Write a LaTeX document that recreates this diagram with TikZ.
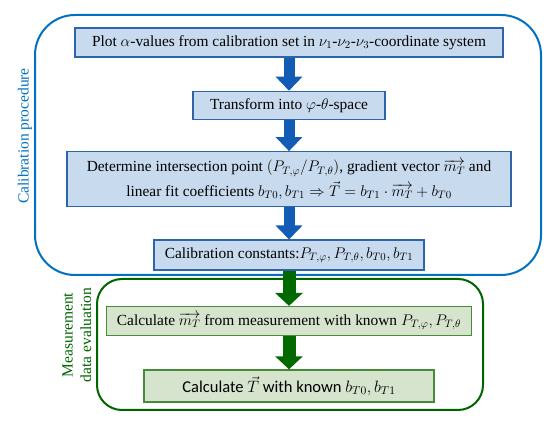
\documentclass[tikz,border=0pt]{standalone}
\usepackage{fix-cm}
\usepackage{fontspec}
\usepackage{amsmath}
\setmainfont{Liberation Serif}
\newfontfamily\calibrifont{Carlito}
\usetikzlibrary{arrows.meta, positioning}
\definecolor{calframe}{RGB}{0,112,192}
\definecolor{calborder}{RGB}{46,100,168}
\definecolor{calfill}{RGB}{200,218,238}
\definecolor{calarrow}{RGB}{18,92,182}
\definecolor{evalframe}{RGB}{0,100,0}
\definecolor{evalborder}{RGB}{70,140,55}
\definecolor{evalfill}{RGB}{214,228,206}
\definecolor{evalarrow}{RGB}{0,105,0}

\begin{document}
\begin{tikzpicture}[x=1pt, y=1pt, node distance=32pt,
  calbox/.style={rectangle, draw=calborder, line width=1.4pt, fill=calfill, inner sep=0pt, align=center, font=\rmfamily\fontsize{15.4}{17}\selectfont},
  evalbox/.style={calbox, draw=evalborder, fill=evalfill},
  frame/.style={rounded corners=#1, line width=2pt},
  sidelabel/.style={rotate=90, align=center, font=\rmfamily\fontsize{15.5}{18.5}\selectfont},
  calarr/.style={-{Triangle[length=14pt, width=26pt]}, line width=11pt, draw=calarrow},
  evalarr/.style={-{Triangle[length=13pt, width=27pt]}, line width=13pt, draw=evalarrow}
]
\useasboundingbox (0,0) rectangle (550,-422);
% outer frames
\draw[frame=40pt, calframe] (35,-15) rectangle (541,-275);
\draw[frame=25pt, evalframe] (97,-279) rectangle (483,-410);
\node[sidelabel, text=calframe] (callabel) at (25,-136) {Calibration procedure};
\node[sidelabel, text=evalframe] (evallabel) at (77,-335) {Measurement\\data evaluation};
% calibration steps
\node[calbox, minimum width=428pt, minimum height=29pt] (plot) at (289,-42.5) {Plot $\alpha$-values from calibration set in $\nu_1$-$\nu_2$-$\nu_3$-coordinate system};
\node[calbox, minimum width=192pt, minimum height=28pt, below=33pt of plot] (trans) {Transform into $\varphi$-$\theta$-space};
\node[calbox, minimum width=444pt, minimum height=55pt, below=31pt of trans] (determ) {Determine intersection point $(P_{T,\varphi}/P_{T,\theta})$, gradient vector $\overrightarrow{m_T}$ and\\[4pt] linear fit coefficients $b_{T0}, b_{T1} \Rightarrow \vec{T} = b_{T1}\cdot\overrightarrow{m_T} + b_{T0}$};
\node[calbox, minimum width=270pt, minimum height=30pt, below=32pt of determ] (const) {Calibration constants:$P_{T,\varphi}, P_{T,\theta}, b_{T0}, b_{T1}$};
% measurement steps
\node[evalbox, minimum width=365pt, minimum height=29pt, below=35pt of const] (calcm) {Calculate $\overrightarrow{m_T}$ from measurement with known $P_{T,\varphi}, P_{T,\theta}$};
\node[evalbox, minimum width=290pt, minimum height=32pt, below=33pt of calcm, font=\calibrifont\fontsize{16.5}{19}\selectfont] (calct) {Calculate $\vec{T}$ with known $b_{T0}, b_{T1}$};
\draw[calarr] (plot) -- (trans);
\draw[calarr] (trans) -- (determ);
\draw[calarr] (determ) -- (const);
\draw[evalarr] (const) -- (calcm);
\draw[evalarr] (calcm) -- (calct);
\end{tikzpicture}
\end{document}
